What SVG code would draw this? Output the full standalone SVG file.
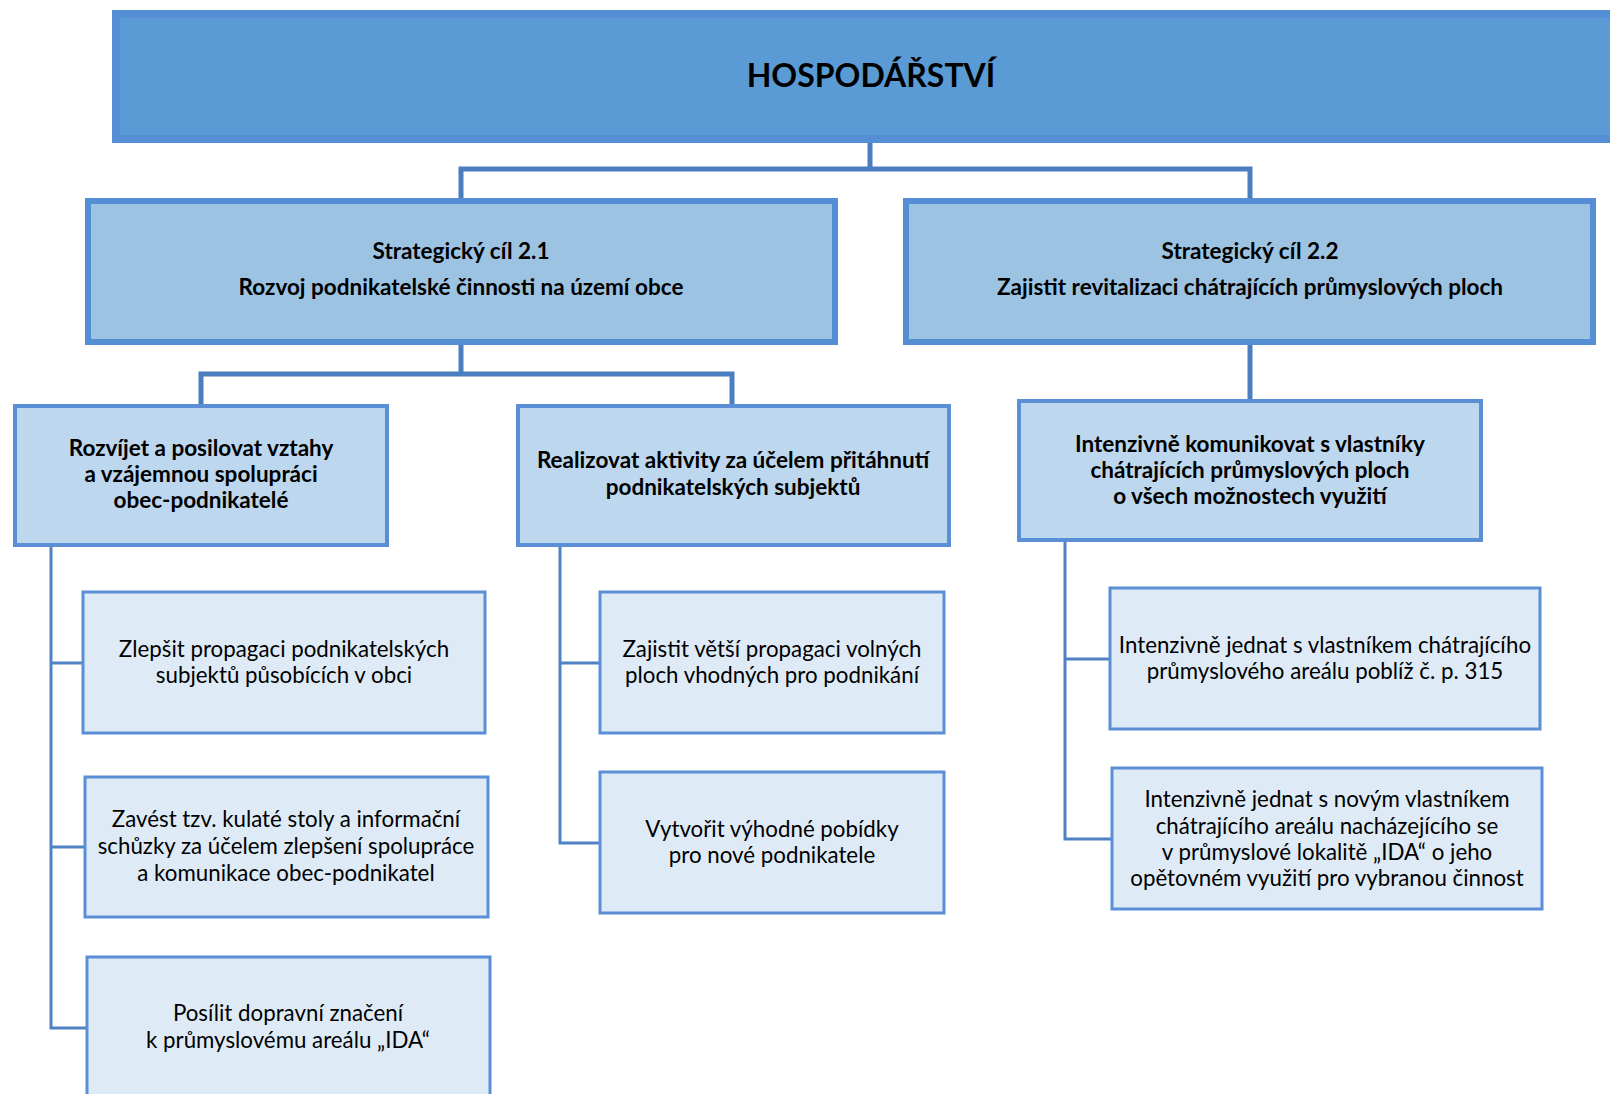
<svg xmlns="http://www.w3.org/2000/svg" width="1610" height="1094" viewBox="0 0 1610 1094">
<style>
.t{font-family:Lato,"Open Sans","DejaVu Sans",sans-serif;fill:#000;text-anchor:middle}
.b{font-weight:bold}
.s2{font-size:22.5px}
.s4{font-size:22.3px}
.top{fill:#5b9bd5;stroke:#558ed5;stroke-width:8}
.l2{fill:#9dc3e2;stroke:#558ed5;stroke-width:6}
.l3{fill:#bdd7ee;stroke:#5a8fd6;stroke-width:4}
.l4{fill:#deebf7;stroke:#5a8fd6;stroke-width:3}
.c1{fill:none;stroke:#4a7ebf;stroke-width:5}
.c2{fill:none;stroke:#4f82c4;stroke-width:3}
</style>
<rect width="1610" height="1094" fill="#fff"/>
<g id="connectors">
<path class="c1" d="M870 142V169M461 198V169H1250V198"/>
<path class="c1" d="M461 344V374M201 404V374H732V404"/>
<path class="c1" d="M1250 344V399"/>
<path class="c2" d="M51 546V1028H87M51 663H83M51 847H85"/>
<path class="c2" d="M560 546V843H600M560 663H600"/>
<path class="c2" d="M1065 542V839H1112M1065 659H1110"/>
</g>
<g id="n0"><rect class="top" x="116" y="14" width="1510" height="125"/>
<text class="t b" x="871" y="87" font-size="32">HOSPODÁŘSTVÍ</text></g>
<g id="n1"><rect class="l2" x="88" y="201" width="747" height="141"/>
<text class="t b s2" x="461" y="259">Strategický cíl 2.1</text>
<text class="t b s2" x="461" y="295">Rozvoj podnikatelské činnosti na území obce</text></g>
<g id="n2"><rect class="l2" x="906" y="201" width="687" height="141"/>
<text class="t b s2" x="1250" y="259">Strategický cíl 2.2</text>
<text class="t b s2" x="1250" y="295">Zajistit revitalizaci chátrajících průmyslových ploch</text></g>
<g id="n3"><rect class="l3" x="15" y="406" width="372" height="139"/>
<text class="t b s2"><tspan x="201" y="456">Rozvíjet a posilovat vztahy</tspan><tspan x="201" y="482">a vzájemnou spolupráci</tspan><tspan x="201" y="508">obec-podnikatelé</tspan></text></g>
<g id="n4"><rect class="l3" x="518" y="406" width="431" height="139"/>
<text class="t b s2"><tspan x="733" y="468">Realizovat aktivity za účelem přitáhnutí</tspan><tspan x="733" y="495">podnikatelských subjektů</tspan></text></g>
<g id="n5"><rect class="l3" x="1019" y="401" width="462" height="139"/>
<text class="t b s2"><tspan x="1250" y="452">Intenzivně komunikovat s vlastníky</tspan><tspan x="1250" y="478">chátrajících průmyslových ploch</tspan><tspan x="1250" y="504">o všech možnostech využití</tspan></text></g>
<g id="n6"><rect class="l4" x="83" y="592" width="402" height="141"/>
<text class="t s4"><tspan x="284" y="657">Zlepšit propagaci podnikatelských</tspan><tspan x="284" y="683">subjektů působících v obci</tspan></text></g>
<g id="n7"><rect class="l4" x="85" y="777" width="403" height="140"/>
<text class="t s4"><tspan x="286" y="827">Zavést tzv. kulaté stoly a informační</tspan><tspan x="286" y="854">schůzky za účelem zlepšení spolupráce</tspan><tspan x="286" y="881">a komunikace obec-podnikatel</tspan></text></g>
<g id="n8"><rect class="l4" x="87" y="957" width="403" height="150"/>
<text class="t s4"><tspan x="288" y="1021">Posílit dopravní značení</tspan><tspan x="288" y="1048">k průmyslovému areálu „IDA“</tspan></text></g>
<g id="n9"><rect class="l4" x="600" y="592" width="344" height="141"/>
<text class="t s4"><tspan x="772" y="657">Zajistit větší propagaci volných</tspan><tspan x="772" y="683">ploch vhodných pro podnikání</tspan></text></g>
<g id="n10"><rect class="l4" x="600" y="772" width="344" height="141"/>
<text class="t s4"><tspan x="772" y="837">Vytvořit výhodné pobídky</tspan><tspan x="772" y="863">pro nové podnikatele</tspan></text></g>
<g id="n11"><rect class="l4" x="1110" y="588" width="430" height="141"/>
<text class="t s4"><tspan x="1325" y="653">Intenzivně jednat s vlastníkem chátrajícího</tspan><tspan x="1325" y="679">průmyslového areálu poblíž č. p. 315</tspan></text></g>
<g id="n12"><rect class="l4" x="1112" y="768" width="430" height="141"/>
<text class="t s4"><tspan x="1327" y="807">Intenzivně jednat s novým vlastníkem</tspan><tspan x="1327" y="834">chátrajícího areálu nacházejícího se</tspan><tspan x="1327" y="860">v průmyslové lokalitě „IDA“ o jeho</tspan><tspan x="1327" y="886">opětovném využití pro vybranou činnost</tspan></text></g>
</svg>
